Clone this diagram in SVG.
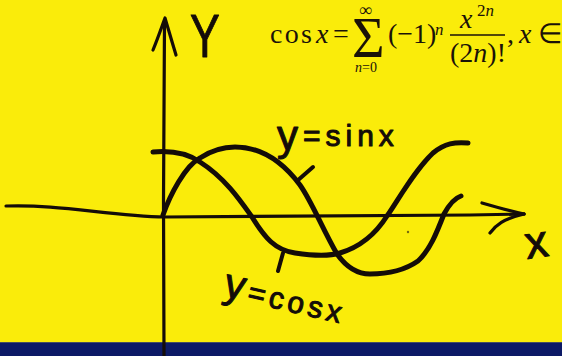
<svg xmlns="http://www.w3.org/2000/svg" width="562" height="356" viewBox="0 0 562 356">
<style>
.ink{fill:none;stroke:#140c08;stroke-linecap:round;stroke-linejoin:round}
.curve{stroke-width:5}
.axis{stroke-width:3.2}
.hand{font-family:"Liberation Sans","DejaVu Sans",sans-serif;fill:#140c08;stroke:#140c08;stroke-width:1;stroke-linejoin:round}
.f{font-family:"Liberation Serif","Times New Roman",serif;fill:#1a1208}
.i{font-style:italic}
</style>
<rect x="0" y="0" width="562" height="356" fill="#faec0a"/>
<rect x="0" y="342" width="562" height="14" fill="#0c1966"/>
<line x1="0" y1="342.5" x2="562" y2="342.5" stroke="#6b7060" stroke-width="1" opacity="0.6"/>
<g id="axes">
  <path class="ink axis" d="M164,356 L163.5,200 L164.5,22"/>
  <path class="ink axis" d="M153,50 C158,38 162,26 165,18 C168,28 172,42 176,55" stroke-width="4.5"/>
  <path class="ink axis" d="M6,206 C60,204 110,216 165,217 L 470,215 L524,214"/>
  <path class="ink axis" d="M482,203 C496,207 510,211 524,214" stroke-width="5"/>
  <path class="ink axis" d="M490,233 C496,225 503,219 524,214" stroke-width="4"/>
</g>
<g id="curves">
  <path id="sin" class="ink curve" d="M163,215 C170,195 185,166 200,158 C212,150 222,147 235,147 C265,147 285,165 300,185 C312,202 322,228 337,254 C347,268 357,274 370,274 C395,274 408,268 418,261 C430,250 437,232 444,214 C450,203 455,198 461,196"/>
  <path id="cos" class="ink curve" d="M153,152 C175,150 190,155 200,162 C225,178 240,200 252,217 C265,238 275,250 295,253 C315,256 330,256 340,253 C360,247 375,235 387,216 C400,197 415,170 433,153 C445,143 455,142 468,143"/>
  <path class="ink" stroke-width="4" d="M297,181 L313,167"/>
  <path class="ink" stroke-width="4" d="M283,253 L278,271"/>
  <circle cx="408" cy="232" r="1.2" fill="#3a3010" opacity="0.7"/>
</g>
<g id="labels">
  <text class="hand" transform="translate(190,57) scale(0.72,1)" font-size="62">Y</text>
  <text class="hand" x="277" y="146" font-size="30" letter-spacing="5"><tspan font-size="42" dy="4">y</tspan><tspan dy="-4">=sinx</tspan></text>
  <text class="hand" transform="translate(222,296) rotate(13)" font-size="30" letter-spacing="4"><tspan font-size="42">y</tspan><tspan>=cosx</tspan></text>
  <text class="hand" transform="translate(527,259) rotate(-8)" font-size="46">x</text>
</g>
<g id="formula" class="f">
  <text x="270" y="43" font-size="28" textLength="42">cos</text>
  <text x="316" y="43" font-size="28" class="i">x</text>
  <text x="333" y="43" font-size="28">=</text>
  <text font-size="14"><tspan x="359" y="16" font-size="18">∞</tspan><tspan x="352" y="57" font-size="56">Σ</tspan><tspan x="355" y="72" class="i">n</tspan><tspan>=0</tspan></text>
  <text x="388" y="43" font-size="28">(−1)</text>
  <text x="435" y="35" font-size="17" class="i">n</text>
  <text x="460" y="28" font-size="28" class="i">x</text>
  <text x="477" y="16" font-size="17">2<tspan class="i">n</tspan></text>
  <line x1="450" y1="35" x2="505" y2="35" stroke="#1a1208" stroke-width="1.6"/>
  <text x="450" y="62" font-size="28">(2<tspan class="i">n</tspan>)!</text>
  <text x="507" y="43" font-size="28">,</text>
  <text x="519" y="43" font-size="28" class="i">x</text>
  <text x="538" y="43" font-size="28">∈</text>
</g>
</svg>
